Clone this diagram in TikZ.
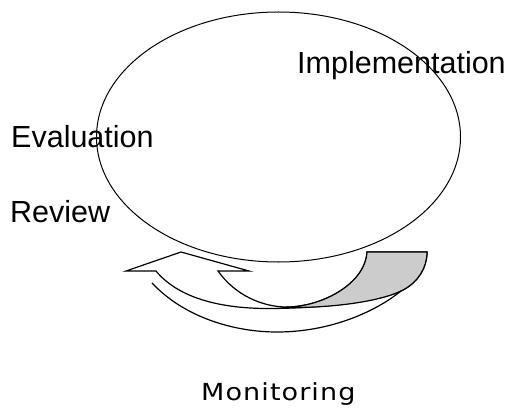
\documentclass[tikz,border=0pt]{standalone}
\usepackage{fontspec}
\setmainfont{Liberation Sans}
\newfontfamily\monfont[LetterSpace=4]{DejaVu Sans}
\usetikzlibrary{shapes.geometric}

\begin{document}
\begin{tikzpicture}[x=1pt,y=-1pt,
stage/.style={
inner sep=0pt,
anchor=base west,
font=\fontsize{30.5}{31}\selectfont
},
loopring/.style={
ellipse,
draw=black,
line width=1pt,
inner sep=0pt,
minimum width=364pt,
minimum height=250pt
},
band/.style={
draw=black,
line width=1.2pt,
line join=miter
}]

\useasboundingbox (0,0) rectangle (513,414);

\node[loopring] (ring) at (278.5,137) {};

\node[stage] (impl) at (297,74) {Implementation};
\node[stage] (eval) at (11,148) {Evaluation};
\node[stage] (rev) at (10,222) {Review};
\node[stage,font=\monfont\fontsize{23.5}{24}\selectfont] (mon) at (201,400) {\scalebox{1.15}[1]{Monitoring}};

% curved arrow under the ring
\filldraw[band,fill=white] (126,271) -- (181,252) -- (249,271) -- (218,271)
  .. controls (235,295) and (262,307) .. (287,307)
  .. controls (320,307) and (365,285) .. (367,252)
  -- (427,252)
  .. controls (427,268) and (418,282) .. (403,290)
  .. controls (380,302) and (320,308.5) .. (268,308.5)
  .. controls (225,308.5) and (180,300) .. (156,271) -- cycle;
\filldraw[band,fill=black!20] (287,307)
  .. controls (320,307) and (365,285) .. (367,252)
  -- (427,252)
  .. controls (427,268) and (418,282) .. (403,290)
  .. controls (380,302) and (330,308) .. (287,307.5) -- cycle;
\draw[band] (152,283) .. controls (185,318) and (235,332) .. (277,332)
  .. controls (330,332) and (375,312) .. (401,291);

\end{tikzpicture}
\end{document}
